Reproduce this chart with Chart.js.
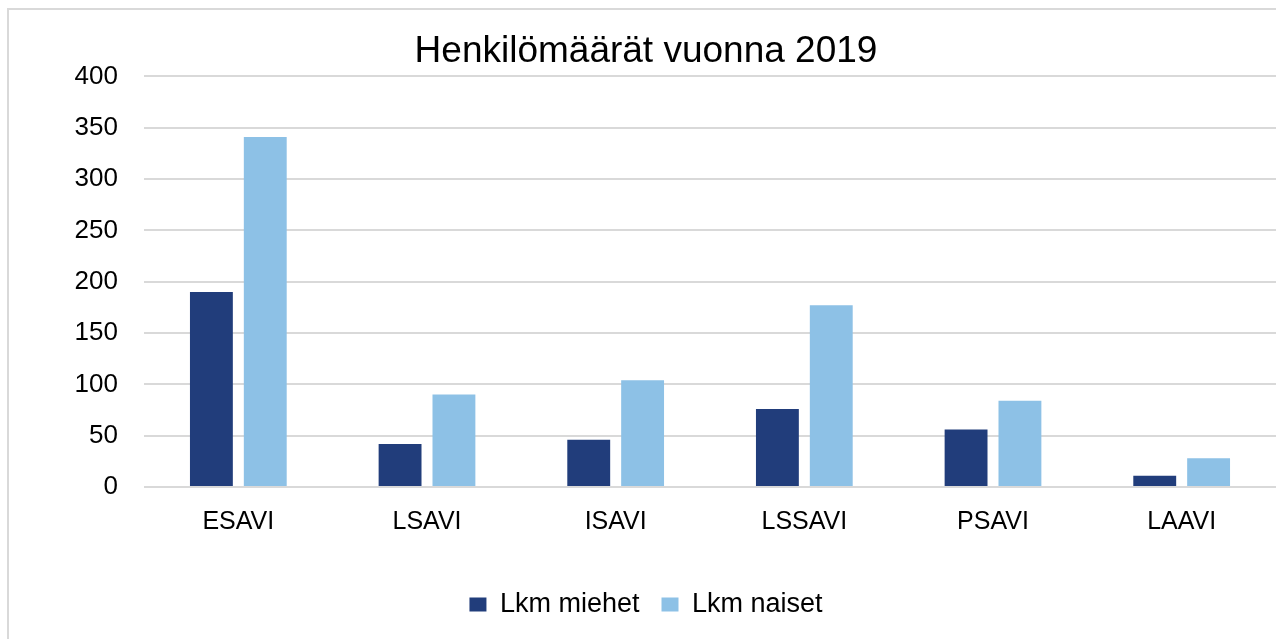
<!DOCTYPE html>
<html>
<head>
<meta charset="utf-8">
<script src="https://cdn.jsdelivr.net/npm/chart.js@4/dist/chart.umd.min.js"></script>
<style>
  html, body { margin: 0; padding: 0; background: #ffffff; }
  #wrap { position: relative; width: 1276px; height: 639px; overflow: hidden; }
  #frame { position: absolute; left: 7px; top: 8px; width: 1300px; height: 700px; border-left: 2px solid #d9d9d9; border-top: 2px solid #d9d9d9; box-sizing: border-box; }
  canvas { position: absolute; left: 0; top: 0; }
</style>
</head>
<body>
<div id="wrap">
  <div id="frame"></div>
  <canvas id="c" width="1276" height="639"></canvas>
</div>
<script>
const chartTitle = 'Henkilömäärät vuonna 2019';
const categories = ['ESAVI', 'LSAVI', 'ISAVI', 'LSSAVI', 'PSAVI', 'LAAVI'];
const seriesNames = ['Lkm miehet', 'Lkm naiset'];
const miehet = [190, 42, 46, 76, 56, 11];
const naiset = [341, 90, 104, 177, 84, 28];
const yTicks = [0, 50, 100, 150, 200, 250, 300, 350, 400];

const FONT = "'Liberation Sans', Arial, sans-serif";

new Chart(document.getElementById('c'), {
  type: 'bar',
  data: {
    labels: categories,
    datasets: [
      { label: seriesNames[0], data: miehet, backgroundColor: '#213d7b', borderWidth: 0 },
      { label: seriesNames[1], data: naiset, backgroundColor: '#8dc1e6', borderWidth: 0 }
    ]
  },
  options: {
    responsive: false,
    animation: false,
    devicePixelRatio: 1,
    layout: { padding: { left: 16, right: 0, top: 0, bottom: 11 } },
    datasets: { bar: { categoryPercentage: 0.571, barPercentage: 0.796 } },
    plugins: {
      title: {
        display: true,
        text: chartTitle,
        color: '#000000',
        font: { family: FONT, size: 37, weight: 'normal' },
        padding: { top: 30, bottom: 2 }
      },
      legend: {
        position: 'bottom',
        labels: {
          color: '#000000',
          font: { family: FONT, size: 27 },
          boxWidth: 17,
          boxHeight: 14,
          padding: 22
        }
      },
      tooltip: { enabled: false }
    },
    scales: {
      x: {
        grid: { display: false, drawTicks: false },
        border: { display: false },
        ticks: { color: '#000000', font: { family: FONT, size: 25 }, padding: 20 },
        afterFit: (s) => { s.height = 82; }
      },
      y: {
        min: 0, max: 400,
        afterBuildTicks: (s) => { s.ticks = yTicks.map(v => ({ value: v })); },
        grid: { color: '#d9d9d9', lineWidth: 2, drawTicks: false },
        border: { display: false },
        ticks: { color: '#000000', font: { family: FONT, size: 26 }, padding: 26 },
        afterFit: (s) => { s.width = 128; }
      }
    }
  }
});
</script>
</body>
</html>
